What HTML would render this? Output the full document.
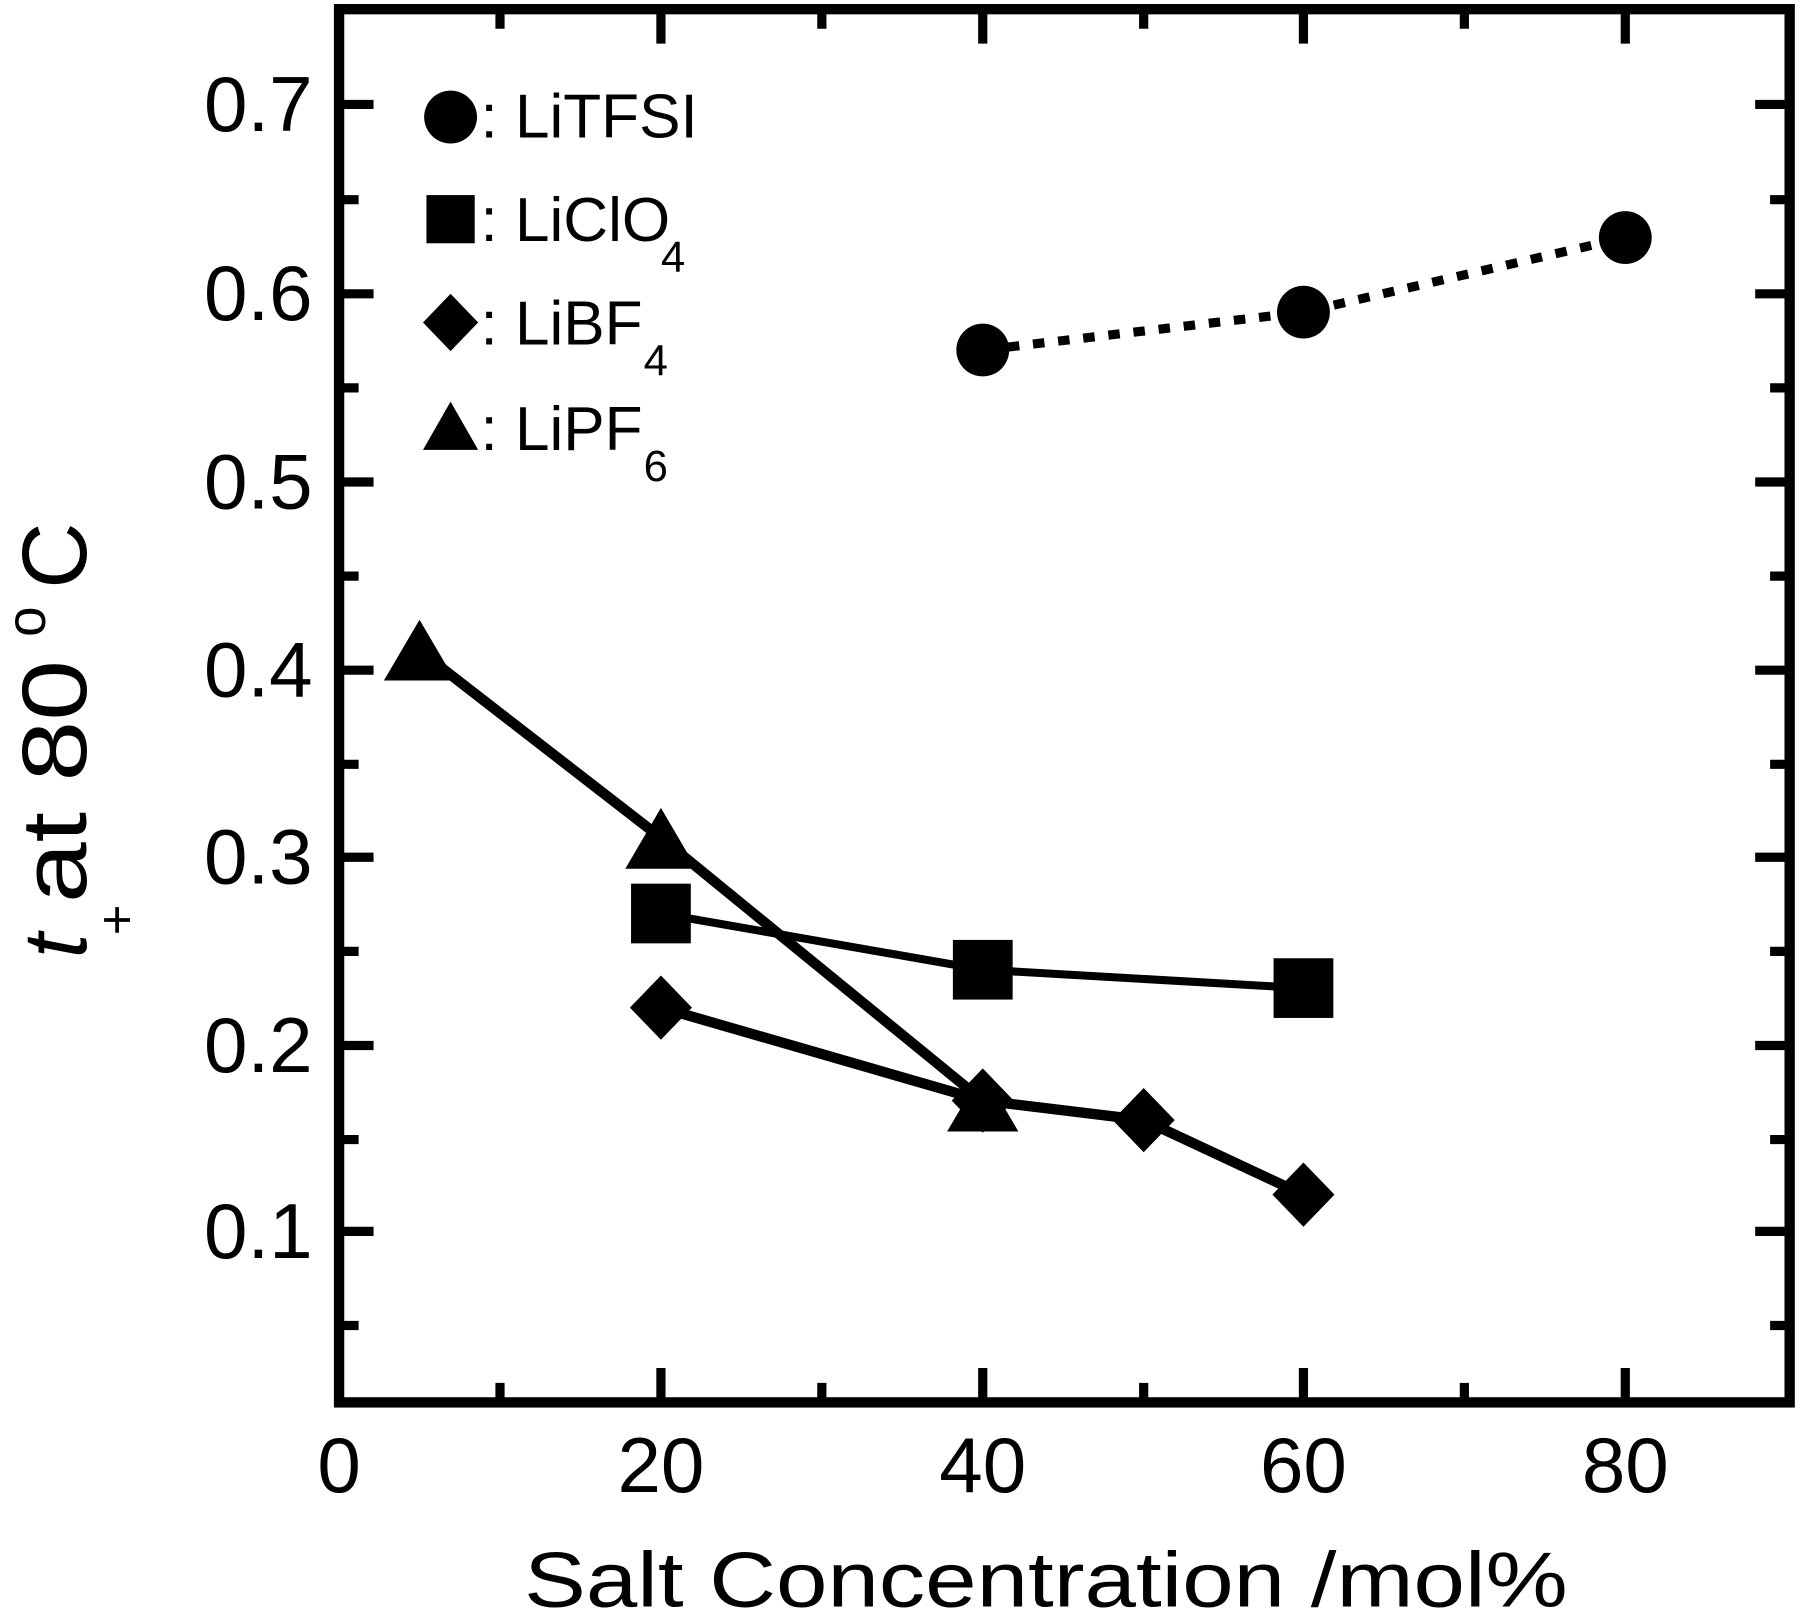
<!DOCTYPE html>
<html><head><meta charset="utf-8"><style>
html,body{margin:0;padding:0;background:#fff}
svg{display:block}
text{font-family:"Liberation Sans",Arial,sans-serif;fill:#000}
</style></head><body>
<svg width="1800" height="1617" viewBox="0 0 1566 1409" preserveAspectRatio="none" xmlns="http://www.w3.org/2000/svg">
<rect x="295" y="8" width="1262" height="1214" fill="none" stroke="#000" stroke-width="9"/>
<g stroke="#000" stroke-width="8">
<path d="M295 91h30M295 256h30M295 420h30M295 584h30M295 747h30M295 911h30M295 1073h30
M295 174h17M295 338h17M295 502h17M295 666h17M295 829h17M295 993h17M295 1155h17
M1557 91h-30M1557 256h-30M1557 420h-30M1557 584h-30M1557 747h-30M1557 911h-30M1557 1073h-30
M1557 174h-17M1557 338h-17M1557 502h-17M1557 666h-17M1557 829h-17M1557 993h-17M1557 1155h-17"/>
<path d="M575 1222v-30M855 1222v-30M1134 1222v-30M1414 1222v-30
M435 1222v-17M715 1222v-17M995 1222v-17M1274 1222v-17
M575 8v30M855 8v30M1134 8v30M1414 8v30
M435 8v17M715 8v17M995 8v17M1274 8v17"/>
</g>
<g font-size="68" text-anchor="end">
<text x="272" y="114">0.7</text><text x="272" y="279">0.6</text><text x="272" y="443">0.5</text>
<text x="272" y="607">0.4</text><text x="272" y="770">0.3</text><text x="272" y="934">0.2</text>
<text x="272" y="1096">0.1</text>
</g>
<g font-size="68" text-anchor="middle">
<text x="295" y="1300">0</text><text x="575" y="1300">20</text><text x="855" y="1300">40</text>
<text x="1134" y="1300">60</text><text x="1414" y="1300">80</text>
</g>
<text x="910" y="1400" font-size="68" text-anchor="middle" textLength="908" lengthAdjust="spacingAndGlyphs">Salt Concentration /mol%</text>
<g transform="translate(75,835) rotate(-90)">
<text x="0" y="0" font-size="78" font-style="italic">t</text>
<text x="20" y="42" font-size="46">+</text>
<text x="48" y="0" font-size="80" textLength="212" lengthAdjust="spacingAndGlyphs">at 80</text>
<text x="280" y="-36" font-size="48">o</text>
<text x="322" y="0" font-size="80">C</text>
</g>
<polyline points="855,305 1134,272 1414,207" fill="none" stroke="#000" stroke-width="8" stroke-dasharray="10,12"/>
<polyline points="575,796 855,845 1134,861" fill="none" stroke="#000" stroke-width="7"/>
<polyline points="575,878 855,959 995,976 1134,1041" fill="none" stroke="#000" stroke-width="9"/>
<polyline points="365,567 575,730 855,959" fill="none" stroke="#000" stroke-width="9"/>
<g fill="#000">
<circle cx="855" cy="305" r="23"/><circle cx="1134" cy="272" r="23"/><circle cx="1414" cy="207" r="23"/>
<rect x="549" y="770" width="52" height="52"/><rect x="829" y="819" width="52" height="52"/><rect x="1108" y="835" width="52" height="52"/>
<path d="M575 850l27 28-27 28-27-28z M855 931l27 28-27 28-27-28z M995 948l27 28-27 28-27-28z M1134 1013l27 28-27 28-27-28z"/>
<path d="M365 540l31 53h-62z M575 704l31 53h-62z M855 933l31 53h-62z"/>
<circle cx="392" cy="102" r="23"/>
<rect x="371" y="170" width="42" height="42"/>
<path d="M392 256l24 25-24 25-24-25z"/>
<path d="M392 350l24 42h-48z"/>
</g>
<g font-size="54">
<text x="418" y="120">: LiTFSI</text>
<text x="418" y="210">: LiClO</text><text x="575" y="237" font-size="38">4</text>
<text x="418" y="300">: LiBF</text><text x="560" y="327" font-size="38">4</text>
<text x="418" y="392">: LiPF</text><text x="560" y="419" font-size="38">6</text>
</g>
</svg>
</body></html>
